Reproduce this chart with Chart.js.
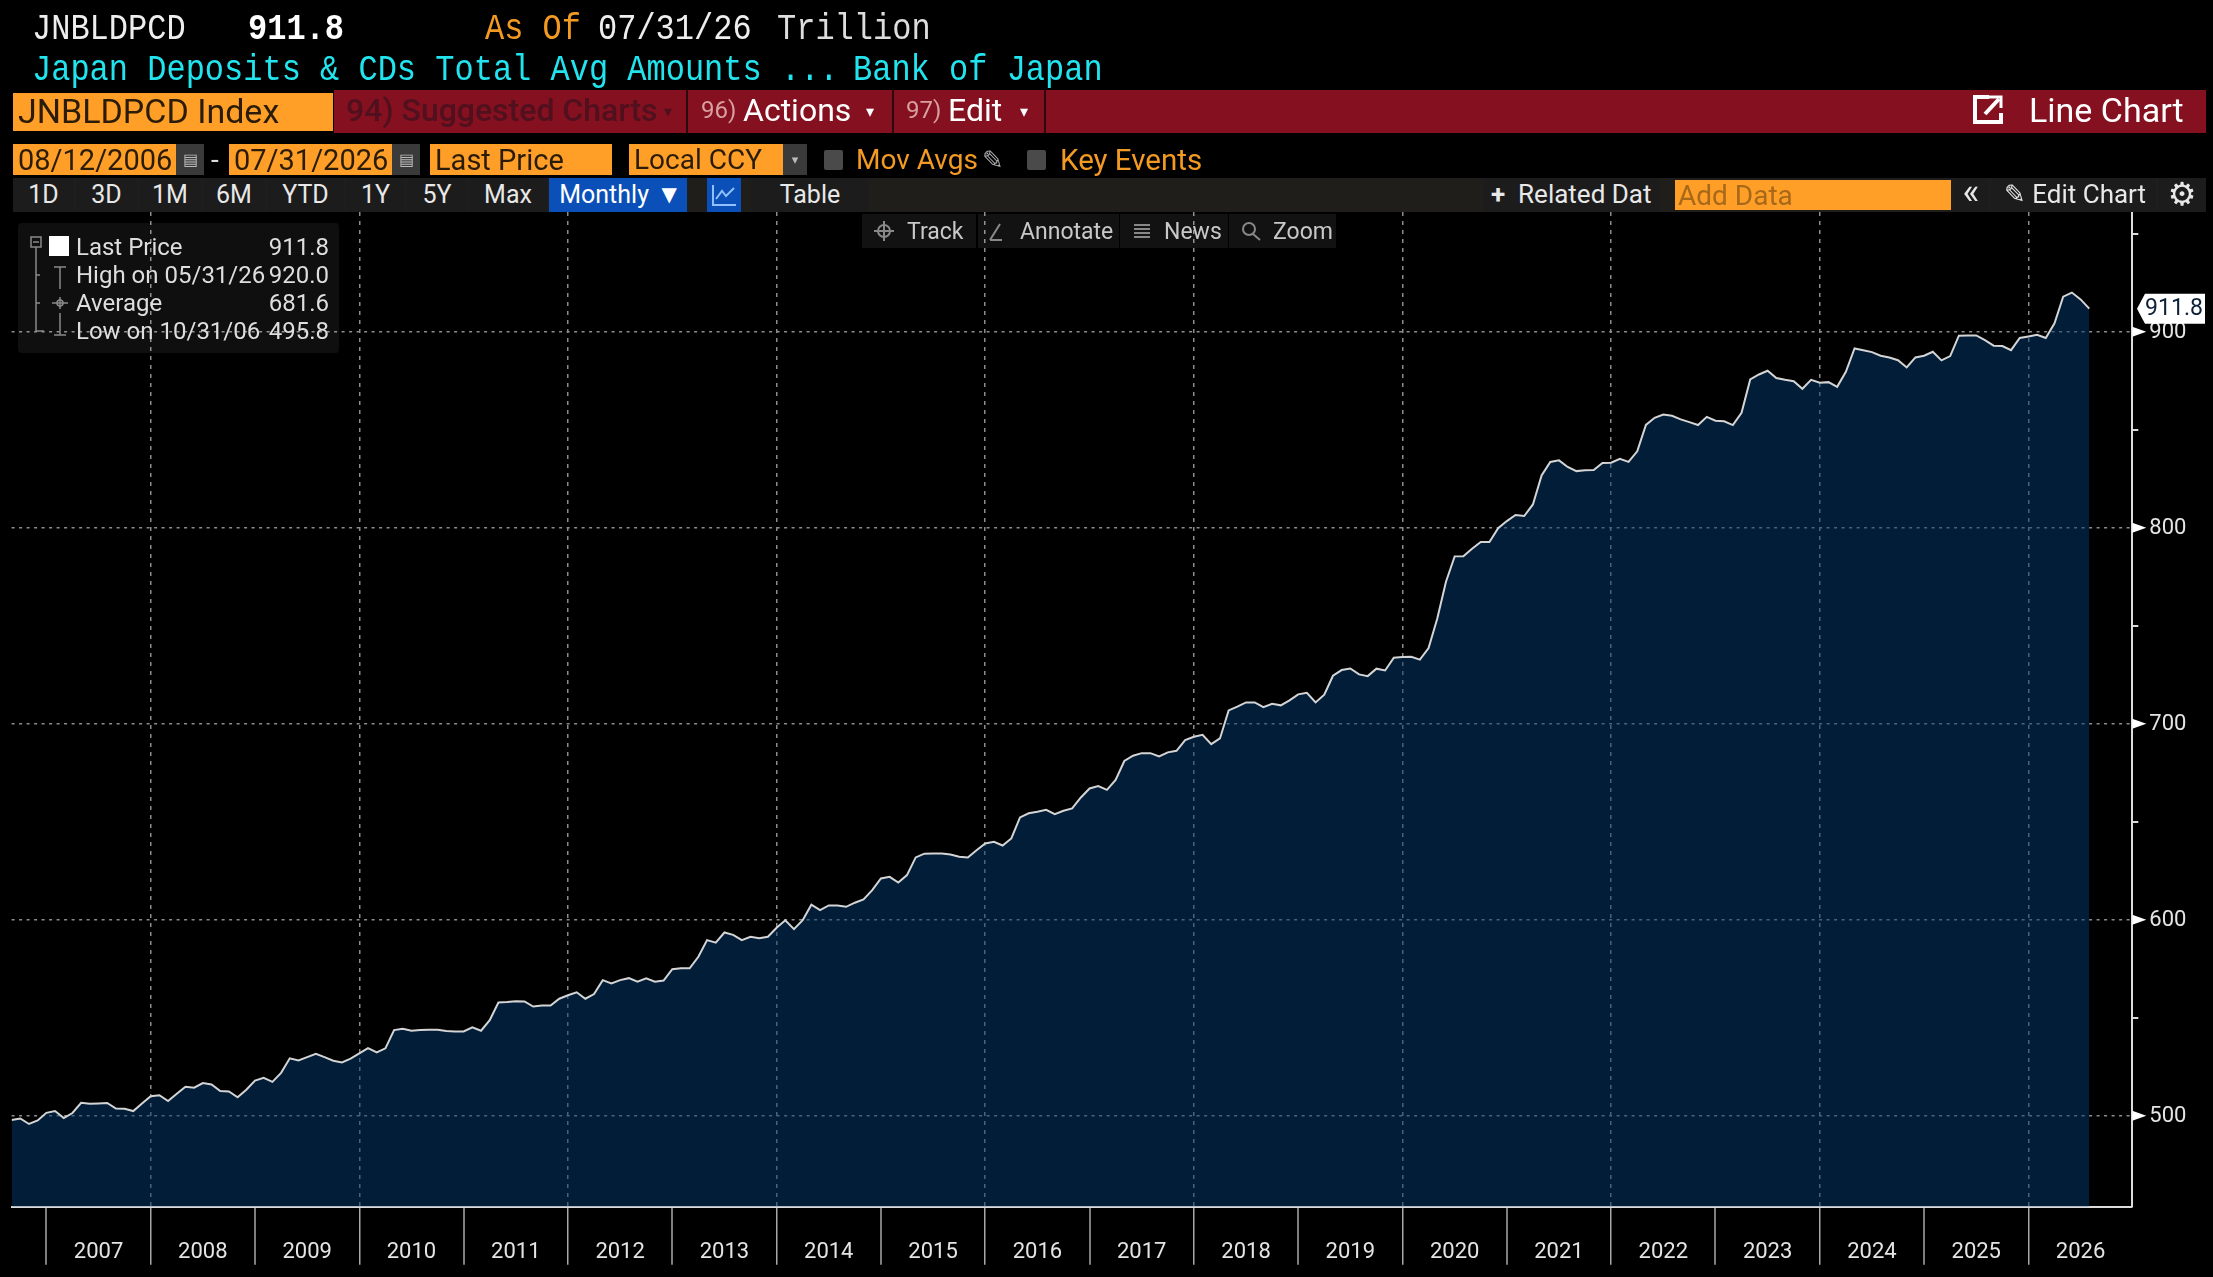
<!DOCTYPE html>
<html lang="en">

<head>
  <meta charset="UTF-8">
  <title>JNBLDPCD Index</title>
  <style>
    html, body { margin: 0; padding: 0; background: #000; overflow: hidden; width: 2213px; height: 1277px; }
    body { position: relative; font-family: Roboto, sans-serif; color: #e6e6e6; }
    canvas { position: absolute; left: 0; top: 0; }
    .mono { position: absolute; font-family: "Liberation Mono", monospace; font-size: 32px; line-height: 40px; white-space: pre; transform: scaleY(1.18); }
    .box { position: absolute; display: flex; align-items: center; white-space: pre; box-sizing: border-box; }
    .c { justify-content: center; }
    .orange { background: #ff9f27; color: #2a1c08; font-size: 29px; padding-left: 5px; }
    .grey { background: #3a3a3a; color: #bbb; font-size: 16px; justify-content: center; }
    .check { background: #4a4a4a; border-radius: 2px; }
    .otext { color: #f39a22; font-size: 28px; }
    .red { font-size: 32px; color: #fff; }
    .num { color: #d9a0a0; font-size: 24px; }
    .btn { background: #1c1c1c; color: #e8e8e8; font-size: 25px; padding-bottom: 2px; }
    .float { background: rgba(255,255,255,0.07); color: #c8c8c8; font-size: 23px; }
    .leg { position: absolute; font-size: 24px; line-height: 28px; color: #dedede; white-space: pre; }
  </style>
</head>

<body>
  <canvas id="chart" width="2213" height="1277"></canvas>

  <!-- cabecalho -->
  <div class="mono" style="left:32px;top:10px;color:#eee">JNBLDPCD</div>
  <div class="mono" style="left:248px;top:10px;color:#fff;font-weight:bold">911.8</div>
  <div class="mono" style="left:485px;top:10px;color:#f39a22">As Of</div>
  <div class="mono" style="left:598px;top:10px;color:#eee">07/31/26</div>
  <div class="mono" style="left:777px;top:10px;color:#ddd">Trillion</div>
  <div class="mono" style="left:32px;top:51px;color:#22e4ee">Japan Deposits &amp; CDs Total Avg Amounts ...</div>
  <div class="mono" style="left:853px;top:51px;color:#22e4ee">Bank of Japan</div>

  <!-- barra vermelha -->
  <div class="box" style="left:334px;top:90px;width:1872px;height:43px;background:#85101f"></div>
  <div class="box" style="left:686px;top:90px;width:2px;height:43px;background:#2a0a0e"></div>
  <div class="box" style="left:892px;top:90px;width:2px;height:43px;background:#2a0a0e"></div>
  <div class="box" style="left:1044px;top:90px;width:2px;height:43px;background:#2a0a0e"></div>
  <div class="box" style="left:13px;top:93px;width:320px;height:38px;background:#ff9f27;color:#2a1c08;font-size:34px;padding:0 0 2px 5px">JNBLDPCD Index</div>
  <div class="box" style="left:346px;top:88px;height:43px;color:#50101e;font-size:32px;font-weight:500">94) Suggested Charts</div>
  <div class="box" style="left:664px;top:90px;height:43px;color:#50101e;font-size:16px;font-family:'DejaVu Sans'">▾</div>
  <div class="box num" style="left:701px;top:88px;height:43px">96)</div>
  <div class="box red" style="left:743px;top:88px;height:43px">Actions</div>
  <div class="box red" style="left:866px;top:90px;height:43px;font-size:16px;font-family:'DejaVu Sans'">▾</div>
  <div class="box num" style="left:906px;top:88px;height:43px">97)</div>
  <div class="box red" style="left:948px;top:88px;height:43px">Edit</div>
  <div class="box red" style="left:1020px;top:90px;height:43px;font-size:16px;font-family:'DejaVu Sans'">▾</div>
  <svg style="position:absolute;left:1971px;top:92px" width="34" height="34" viewBox="0 0 34 34" fill="none" stroke="#fff" stroke-width="4">
    <path d="M18 5H4V30H30V21"/><path d="M14 22L28 7"/><path d="M18 5H30V16" stroke-width="3"/>
  </svg>
  <div class="box red" style="left:2029px;top:88px;height:43px;font-size:34px">Line Chart</div>

  <!-- datas -->
  <div class="box orange" style="left:13px;top:144px;width:163px;height:31px">08/12/2006</div>
  <div class="box grey" style="left:176px;top:144px;width:28px;height:31px">▤</div>
  <div class="box" style="left:211px;top:144px;height:31px;font-size:28px;color:#ddd">-</div>
  <div class="box orange" style="left:229px;top:144px;width:163px;height:31px">07/31/2026</div>
  <div class="box grey" style="left:392px;top:144px;width:28px;height:31px">▤</div>
  <div class="box orange" style="left:430px;top:144px;width:182px;height:31px;font-size:29px">Last Price</div>
  <div class="box orange" style="left:629px;top:144px;width:154px;height:31px;font-size:28px">Local CCY</div>
  <div class="box grey" style="left:783px;top:144px;width:24px;height:31px;font-size:13px;font-family:'DejaVu Sans'">▾</div>
  <div class="box check" style="left:824px;top:150px;width:19px;height:20px"></div>
  <div class="box otext" style="left:856px;top:144px;height:31px">Mov Avgs</div>
  <div class="box" style="left:982px;top:144px;height:31px;font-family:'DejaVu Sans';font-size:26px;color:#aaa">✎</div>
  <div class="box check" style="left:1027px;top:150px;width:19px;height:20px"></div>
  <div class="box otext" style="left:1060px;top:144px;height:31px;font-size:29.5px">Key Events</div>

  <!-- botoes -->
  <div class="box" style="left:13px;top:178px;width:2193px;height:34px;background:#1f1e1b"></div>
  <div class="box btn c" style="left:13px;top:178px;width:61px;height:34px">1D</div>
  <div class="box btn c" style="left:76px;top:178px;width:61px;height:34px">3D</div>
  <div class="box btn c" style="left:139px;top:178px;width:62px;height:34px">1M</div>
  <div class="box btn c" style="left:203px;top:178px;width:62px;height:34px">6M</div>
  <div class="box btn c" style="left:267px;top:178px;width:77px;height:34px">YTD</div>
  <div class="box btn c" style="left:346px;top:178px;width:59px;height:34px">1Y</div>
  <div class="box btn c" style="left:407px;top:178px;width:60px;height:34px">5Y</div>
  <div class="box btn c" style="left:469px;top:178px;width:78px;height:34px">Max</div>
  <div class="box c" style="left:549px;top:178px;width:138px;height:34px;background:#0b50b8;color:#fff;font-size:25px;padding-bottom:2px">Monthly  <span style="font-family:'DejaVu Sans';font-size:20px">▼</span></div>
  <div class="box c" style="left:707px;top:178px;width:34px;height:34px;background:#0b50b8">
    <svg width="26" height="24" viewBox="0 0 26 24" fill="none" stroke="#8fc0ff" stroke-width="2"><path d="M2 2V22H25"/><path d="M5 16L11 8L15 13L23 5"/></svg>
  </div>
  <div class="box btn c" style="left:751px;top:178px;width:118px;height:34px">Table</div>
  <div class="box btn" style="left:1483px;top:178px;width:177px;height:34px;padding-left:8px;font-size:26px"><span style="font-weight:bold">+</span>  Related Dat</div>
  <div class="box" style="left:1675px;top:180px;width:276px;height:30px;background:#ff9f27;color:#a8681a;font-size:28px;padding-left:3px">Add Data</div>
  <div class="box btn c" style="left:1953px;top:178px;width:36px;height:34px;font-size:36px;padding-bottom:6px">«</div>
  <div class="box btn" style="left:1991px;top:178px;width:165px;height:34px;padding-left:13px;font-size:26px"><span style="font-family:'DejaVu Sans'">✎</span> Edit Chart</div>
  <div class="box btn c" style="left:2158px;top:178px;width:48px;height:34px;font-family:'DejaVu Sans';font-size:32px">⚙</div>

  <!-- ferramentas -->
  <div class="box float" style="left:862px;top:214px;width:114px;height:34px;padding-left:45px">Track</div>
  <div class="box float" style="left:978px;top:214px;width:141px;height:34px;padding-left:42px">Annotate</div>
  <div class="box float" style="left:1120px;top:214px;width:108px;height:34px;padding-left:44px">News</div>
  <div class="box float" style="left:1229px;top:214px;width:107px;height:34px;padding-left:44px">Zoom</div>
  <svg style="position:absolute;left:862px;top:214px" width="474" height="34" fill="none" stroke="#888" stroke-width="2">
    <circle cx="22" cy="17" r="6"/><path d="M22 7V27M12 17H32"/>
    <path d="M128 26L138 10M128 26H140"/>
    <path d="M272 11H288M272 15H288M272 19H288M272 23H288"/>
    <circle cx="387" cy="15" r="6"/><path d="M391 20L398 26"/>
  </svg>

  <!-- legenda -->
  <div class="box" style="left:18px;top:223px;width:321px;height:130px;background:rgba(255,255,255,0.06);border-radius:4px"></div>
  <svg style="position:absolute;left:18px;top:223px" width="60" height="130" fill="none" stroke="#8a8a8a" stroke-width="1.5">
    <rect x="13" y="14" width="10" height="10"/><path d="M15 19H21"/>
    <path d="M18 24V108H26M18 52H22M18 80H22"/>
    <path d="M36 44H48M42 44V66"/>
    <path d="M34 80H50M42 74V86"/><circle cx="42" cy="80" r="3"/>
    <path d="M36 112H48M42 90V112"/>
  </svg>
  <div class="box" style="left:49px;top:236px;width:20px;height:20px;background:#fff"></div>
  <div class="leg" style="left:76px;top:233px">Last Price</div>
  <div class="leg" style="right:1884px;top:233px">911.8</div>
  <div class="leg" style="left:76px;top:261px">High on 05/31/26</div>
  <div class="leg" style="right:1884px;top:261px">920.0</div>
  <div class="leg" style="left:76px;top:289px">Average</div>
  <div class="leg" style="right:1884px;top:289px">681.6</div>
  <div class="leg" style="left:76px;top:317px">Low on 10/31/06</div>
  <div class="leg" style="right:1884px;top:317px">495.8</div>

  <script src="https://cdn.jsdelivr.net/npm/chart.js"></script>

  <script>
    // valores mensais, ago/2006 ate jul/2026
    const years = [2007, 2008, 2009, 2010, 2011, 2012, 2013, 2014, 2015, 2016,
      2017, 2018, 2019, 2020, 2021, 2022, 2023, 2024, 2025, 2026];
    const yTickValues = [500, 550, 600, 650, 700, 750, 800, 850, 900, 950];
    const yLabelValues = [500, 600, 700, 800, 900];
    const monthly = [
      497.8, 498.6, 495.8, 497.6, 501.5,
      502.4, 498.8, 501.4, 506.6, 506.1, 506.3, 506.5, 503.7, 503.6, 502.4, 506.3, 510,
      510.5, 507.5, 511.2, 514.8, 514.3, 516.7, 516, 512.6, 512.4, 509.4, 513.3, 517.9,
      519.4, 517.3, 521.9, 529.3, 528.2, 529.9, 531.6, 529.9, 528.1, 527.2, 529.1, 531.8,
      534.5, 532.3, 534.4, 543.7, 544.4, 543.4, 543.7, 543.9, 543.9, 543.2, 543, 543,
      545.1, 543.4, 548.8, 557.8, 558, 558.4, 558.3, 555.7, 556.2, 556.2, 559.7, 561.5,
      563, 559.7, 562.1, 569.2, 567.5, 569.2, 570.2, 568.4, 570.1, 568.4, 569, 574.8,
      575.2, 575.2, 581.1, 589.6, 588.3, 593.5, 592.3, 589.6, 591.3, 590.6, 591.3, 595.9,
      599.7, 595.2, 599.8, 607.7, 604.9, 607.3, 607.3, 606.6, 608.7, 610.4, 615.1, 621.1,
      621.9, 619, 622.8, 631.8, 633.7, 633.8, 633.8, 633.3, 632.1, 631.8, 635.5, 638.9,
      639.8, 637.9, 641.5, 652.2, 654.3, 655.1, 656.1, 653.9, 655.6, 656.8, 662.4, 667,
      668.2, 666.3, 671.3, 681, 683.7, 685, 685, 683.3, 685.4, 686.2, 691.7, 693.4,
      694.4, 689.6, 692.5, 706.8, 708.7, 710.9, 710.9, 708.5, 710.2, 709.4, 711.9, 715,
      715.8, 710.9, 714.8, 724.5, 727.4, 728.2, 725.2, 724.3, 728.1, 727.2, 733.7, 734,
      734.2, 732.7, 738.6, 753.7, 772.5, 785.4, 785.5, 789.3, 792.7, 792.7, 799.8, 803.4,
      806.5, 806, 811.9, 826.7, 833.6, 834.4, 831, 828.9, 829.3, 829.5, 833.1, 833.2,
      835.2, 833.6, 839, 852.5, 856.1, 857.8, 857.1, 855.3, 853.9, 852.4, 856.6, 854.6,
      854.3, 852.4, 858.7, 875.7, 878.2, 880.1, 876.4, 875.5, 874.8, 870.9, 875.5, 874,
      874.3, 871.9, 879.6, 891.5, 890.6, 889.6, 887.8, 886.9, 885.5, 881.8, 886.9, 887.8,
      889.8, 885.4, 887.6, 898, 898.1, 898.1, 895.7, 892.9, 892.7, 890.6, 896.8, 897.6,
      898.5, 896.8, 904.3, 917.9, 920, 916.5, 911.8
    ];
    const lastLabel = '911.8';

    const axisFont = { family: "Roboto, sans-serif", size: 22 };
    const gridGrey = '#8c8c8c';

    // marca do ano cai no fim de dezembro (indice 4, 16, 28...), o rotulo fica no meio
    const yearEnd = (i) => 4 + 12 * i;
    const isYearTick = (v) => (v - 4) % 12 === 0;
    const isGridTick = (v) => (v - 16) % 24 === 0;

    const axisMarks = {
      id: 'axisMarks',
      afterDraw(chart) {
        const { ctx, scales: { y } } = chart;
        const x0 = y.left;
        ctx.save();
        ctx.fillStyle = '#fff';
        yLabelValues.forEach((v) => {
          const py = y.getPixelForValue(v);
          ctx.beginPath();
          ctx.moveTo(x0, py - 5);
          ctx.lineTo(x0 + 14, py);
          ctx.lineTo(x0, py + 5);
          ctx.fill();
        });
        // etiqueta do ultimo valor
        const py = y.getPixelForValue(monthly[monthly.length - 1]);
        ctx.beginPath();
        ctx.moveTo(2137, py);
        ctx.lineTo(2145, py - 15);
        ctx.lineTo(2205, py - 15);
        ctx.lineTo(2205, py + 15);
        ctx.lineTo(2145, py + 15);
        ctx.closePath();
        ctx.fill();
        ctx.fillStyle = '#0c2036';
        ctx.font = "23px Roboto, sans-serif";
        ctx.textAlign = 'center';
        ctx.textBaseline = 'middle';
        ctx.fillText(lastLabel, 2174, py + 1);
        ctx.restore();
      }
    };

    new Chart(document.getElementById('chart'), {
      type: 'line',
      data: {
        datasets: [{
          data: monthly.map((v, i) => ({ x: i, y: v })),
          borderColor: '#d4d4d4',
          borderWidth: 2,
          backgroundColor: 'rgba(4,58,112,0.5)',
          fill: 'start',
          pointRadius: 0,
          tension: 0
        }]
      },
      options: {
        responsive: false,
        animation: false,
        layout: { padding: { left: 11.6, top: 212, right: 0, bottom: 0 } },
        plugins: { legend: { display: false }, tooltip: { enabled: false } },
        scales: {
          x: {
            type: 'linear',
            min: 0,
            max: 243.95,
            afterFit: (s) => { s.height = 70.3; },
            afterBuildTicks: (s) => {
              const list = [];
              years.forEach((yr, i) => {
                list.push({ value: yearEnd(i) });
                list.push({ value: yearEnd(i) + 6 });
              });
              s.ticks = list;
            },
            border: { color: '#dcdcdc', width: 2, dash: [4, 5] },
            grid: {
              color: (c) => (isGridTick(c.tick.value) ? gridGrey : 'transparent'),
              lineWidth: (c) => (isGridTick(c.tick.value) ? 1.5 : 0),
              tickLength: 58,
              tickWidth: 1.5,
              tickColor: (c) => (isYearTick(c.tick.value) ? '#a8a8a8' : 'transparent')
            },
            ticks: {
              autoSkip: false,
              maxRotation: 0,
              minRotation: 0,
              padding: -25,
              color: '#e4e4e4',
              font: axisFont,
              callback: (v) => (isYearTick(v) ? '' : String(years[Math.floor((v - 4) / 12)]))
            }
          },
          y: {
            position: 'right',
            min: 453.6,
            max: 961.1,
            afterFit: (s) => { s.width = 80.7; },
            afterBuildTicks: (s) => { s.ticks = yTickValues.map((v) => ({ value: v })); },
            border: { color: '#dcdcdc', width: 2, dash: [3, 4.5] },
            grid: {
              color: (c) => (yLabelValues.includes(c.tick.value) ? gridGrey : 'transparent'),
              lineWidth: (c) => (yLabelValues.includes(c.tick.value) ? 1.5 : 0),
              tickLength: 6,
              tickWidth: 2,
              tickColor: '#dcdcdc'
            },
            ticks: {
              padding: 11,
              labelOffset: 1,
              color: '#e4e4e4',
              font: axisFont,
              callback: (v) => (yLabelValues.includes(v) ? String(v) : '')
            }
          }
        }
      },
      plugins: [axisMarks]
    });
  </script>
</body>

</html>
